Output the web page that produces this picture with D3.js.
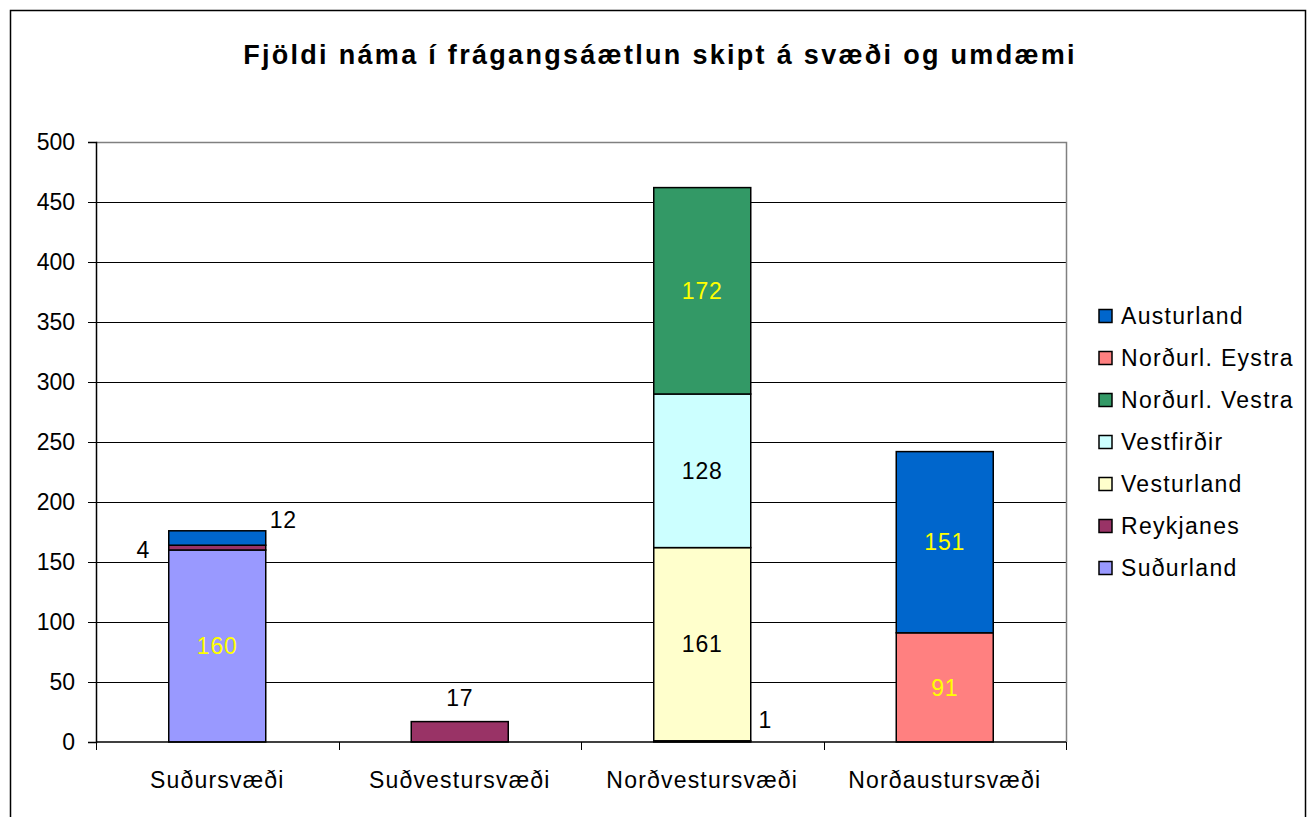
<!DOCTYPE html>
<html>
<head>
<meta charset="utf-8">
<script src="https://cdn.jsdelivr.net/npm/d3@7"></script>
<style>
  body { margin: 0; background: #fff; }
  svg { display: block; font-family: "Liberation Sans", Arial, sans-serif; }
</style>
</head>
<body>
<div id="chart"></div>
<script>
// categories (x axis) and series, bottom of stack first
const categories = ['Suðursvæði', 'Suðvestursvæði', 'Norðvestursvæði', 'Norðaustursvæði'];
const seriesNames = ['Suðurland', 'Reykjanes', 'Vesturland', 'Vestfirðir', 'Norðurl. Vestra', 'Norðurl. Eystra', 'Austurland'];

const sudurland    = [160, 0, 0, 0];
const reykjanes    = [4, 17, 1, 0];
const vesturland   = [0, 0, 161, 0];
const vestfirdir   = [0, 0, 128, 0];
const nordurlVestra = [0, 0, 172, 0];
const nordurlEystra = [0, 0, 0, 91];
const austurland   = [12, 0, 0, 151];

const yTicks = [0, 50, 100, 150, 200, 250, 300, 350, 400, 450, 500];

const seriesValues = [sudurland, reykjanes, vesturland, vestfirdir, nordurlVestra, nordurlEystra, austurland];
const colors = ['#9999FF', '#993366', '#FFFFCC', '#CCFFFF', '#339966', '#FF8080', '#0066CC'];
const labelColors = ['#FFFF00', '#000', '#000', '#000', '#FFFF00', '#FFFF00', '#FFFF00'];

// labels that were dragged off their segment in the original
const labelMoves = {
  'Reykjanes|Suðursvæði': [-74, 2, '#000'],
  'Austurland|Suðursvæði': [66, -18, '#000'],
  'Reykjanes|Suðvestursvæði': [0, -34, '#000'],
  'Reykjanes|Norðvestursvæði': [63, -22, '#000']
};

const width = 1310, height = 817;
const plot = { left: 96, right: 1066, top: 142, bottom: 742 };

const table = categories.map((c, i) => {
  const row = { category: c };
  seriesNames.forEach((s, j) => { row[s] = seriesValues[j][i]; });
  return row;
});

const stacked = d3.stack().keys(seriesNames)(table);

const svg = d3.select('#chart').append('svg')
  .attr('width', width)
  .attr('height', height);

// outer chart border
svg.append('rect')
  .attr('x', 10.5).attr('y', 10.5)
  .attr('width', 1295).attr('height', 820)
  .attr('fill', 'none').attr('stroke', '#000').attr('stroke-width', 1.5);

svg.append('text')
  .attr('x', 660).attr('y', 64)
  .attr('text-anchor', 'middle')
  .attr('font-size', 27).attr('font-weight', 'bold')
  .attr('letter-spacing', 2.3)
  .text('Fjöldi náma í frágangsáætlun skipt á svæði og umdæmi');

const x = d3.scaleBand().domain(categories).range([plot.left, plot.right]);
const y = d3.scaleLinear().domain([0, 500]).range([plot.bottom, plot.top]);
const barW = x.bandwidth() * 0.4;

// gridlines
svg.append('g')
  .selectAll('line')
  .data(yTicks.slice(1, -1))
  .join('line')
  .attr('x1', plot.left).attr('x2', plot.right)
  .attr('y1', d => Math.round(y(d)) + 0.5).attr('y2', d => Math.round(y(d)) + 0.5)
  .attr('stroke', '#000').attr('stroke-width', 1);

// plot area border (top and right are grey)
svg.append('path')
  .attr('d', `M${plot.left},${plot.top + 0.5}H${plot.right + 0.5}V${plot.bottom}`)
  .attr('fill', 'none').attr('stroke', '#808080').attr('stroke-width', 1.5);

// bars
const layers = svg.append('g')
  .selectAll('g')
  .data(stacked)
  .join('g')
  .attr('fill', (d, i) => colors[i]);

layers.selectAll('rect')
  .data(d => d.map(v => ({ v, key: d.key })))
  .join('rect')
  .filter(d => d.v[1] - d.v[0] > 0)
  .attr('x', d => x(d.v.data.category) + x.bandwidth() / 2 - barW / 2)
  .attr('y', d => y(d.v[1]))
  .attr('width', barW)
  .attr('height', d => y(d.v[0]) - y(d.v[1]))
  .attr('stroke', '#000').attr('stroke-width', 1.5);

// y axis
const yAxis = svg.append('g')
  .attr('transform', `translate(${plot.left},0)`)
  .call(d3.axisLeft(y).tickValues(yTicks).tickSize(8).tickPadding(13));
yAxis.select('.domain').attr('stroke', '#000').attr('stroke-width', 1.5);
yAxis.selectAll('.tick line').attr('stroke', '#000');
yAxis.selectAll('.tick text')
  .attr('font-size', 23).attr('fill', '#000')
  .attr('font-family', '"Liberation Sans", Arial, sans-serif');

// x axis: ticks between categories
const xAxis = svg.append('g')
  .attr('transform', `translate(0,${plot.bottom})`);
xAxis.append('line')
  .attr('x1', plot.left).attr('x2', plot.right)
  .attr('stroke', '#000').attr('stroke-width', 1.5);
xAxis.selectAll('line.tk')
  .data(d3.range(categories.length + 1))
  .join('line')
  .attr('class', 'tk')
  .attr('x1', i => Math.round(plot.left + i * x.step()) + 0.5)
  .attr('x2', i => Math.round(plot.left + i * x.step()) + 0.5)
  .attr('y1', 0).attr('y2', 8)
  .attr('stroke', '#000');
xAxis.selectAll('text')
  .data(categories)
  .join('text')
  .attr('x', d => x(d) + x.bandwidth() / 2)
  .attr('y', 46)
  .attr('text-anchor', 'middle')
  .attr('font-size', 23)
  .attr('letter-spacing', 1.2)
  .text(d => d);

// data labels
const labels = [];
stacked.forEach((layer, i) => {
  layer.forEach(v => {
    const val = v[1] - v[0];
    if (val <= 0) return;
    const move = labelMoves[layer.key + '|' + v.data.category] || [0, 0, labelColors[i]];
    labels.push({
      x: x(v.data.category) + x.bandwidth() / 2 + move[0],
      y: (y(v[0]) + y(v[1])) / 2 + move[1],
      color: move[2],
      text: val
    });
  });
});

svg.append('g')
  .selectAll('text')
  .data(labels)
  .join('text')
  .attr('x', d => d.x).attr('y', d => d.y)
  .attr('dy', '0.36em')
  .attr('text-anchor', 'middle')
  .attr('font-size', 23)
  .attr('letter-spacing', 0.8)
  .attr('fill', d => d.color)
  .text(d => d.text);

// legend, top entry is the top of the stack
const legendOrder = seriesNames.map((s, i) => i).reverse();
const legend = svg.append('g')
  .selectAll('g')
  .data(legendOrder)
  .join('g')
  .attr('transform', (d, k) => `translate(1099,${316 + k * 42})`);
legend.append('rect')
  .attr('x', 0).attr('y', -6.5)
  .attr('width', 13).attr('height', 13)
  .attr('fill', i => colors[i])
  .attr('stroke', '#000').attr('stroke-width', 1.5);
legend.append('text')
  .attr('x', 22).attr('dy', '0.36em')
  .attr('font-size', 23)
  .attr('letter-spacing', 1.3)
  .text(i => seriesNames[i]);
</script>
</body>
</html>
